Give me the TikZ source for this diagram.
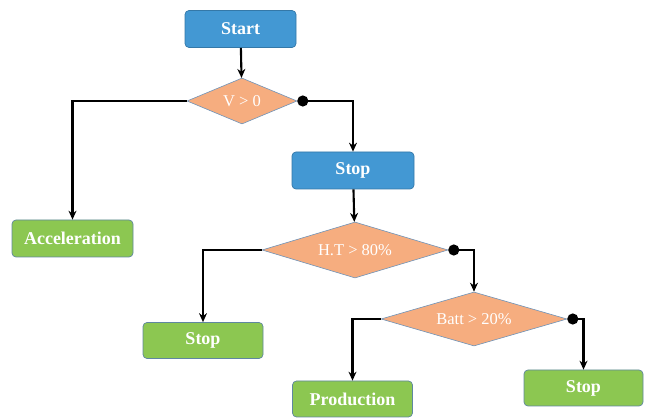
\documentclass[tikz,border=0pt]{standalone}
\usepackage{fontspec}
\setmainfont{Liberation Serif}
\usetikzlibrary{shapes.geometric,arrows.meta}
\definecolor{bluefill}{HTML}{4398D3}
\definecolor{blueedge}{HTML}{3478A8}
\definecolor{orfill}{HTML}{F6AD7F}
\definecolor{oredge}{HTML}{6E93B8}
\definecolor{grfill}{HTML}{8CC751}
\definecolor{gredge}{HTML}{5F87A0}
\tikzset{
  x=1pt,y=-1pt,
  bluebox/.style={rectangle,rounded corners=4pt,draw=blueedge,fill=bluefill,line width=0.7pt,
    text=white,font=\fontsize{18}{19}\selectfont\bfseries,minimum width=111pt,minimum height=37pt},
  greenbox/.style={rectangle,rounded corners=4pt,draw=gredge,fill=grfill,line width=0.7pt,
    text=white,font=\fontsize{18}{19}\selectfont\bfseries,minimum width=120pt,minimum height=36pt},
  decision/.style={diamond,aspect=2.2,draw=oredge,fill=orfill,line width=0.6pt,inner sep=0pt,
    text=white,font=\fontsize{16.5}{17}\selectfont},
  flow/.style={draw=black,line width=2.1pt,-{Stealth[length=9pt,width=8pt]}},
  dotstart/.style={draw=black,line width=2.1pt,{Circle[length=11pt,width=11pt]}-{Stealth[length=9pt,width=8pt]}}
}
\begin{document}
\begin{tikzpicture}
\useasboundingbox (0,0) rectangle (654,419);
\node[bluebox] (start) at (240.5,29) {Start};
\node[decision,minimum width=110pt,minimum height=46pt] (d1) at (242,101) {V > 0};
\node[bluebox,minimum width=122pt] (stop1) at (353,170.5) {Stop};
\node[greenbox,minimum width=121pt,minimum height=37pt] (acc) at (72.5,238.5) {Acceleration};
\node[decision,minimum width=186pt,minimum height=56pt] (d2) at (355,250) {H.T > 80\%};
\node[greenbox] (stop2) at (203,340.5) {Stop};
\node[decision,minimum width=186pt,minimum height=54pt] (d3) at (474,319) {Batt > 20\%};
\node[greenbox] (prod) at (352.5,399) {Production};
\node[greenbox,minimum width=119pt] (stop3) at (583.5,388) {Stop};

\draw[flow] (start) -- (d1);
\draw[flow] (d1.west) -| (acc.north);
\draw[dotstart] (d1.east) -| (stop1.north);
\draw[flow] (stop1) -- (d2);
\draw[flow] (d2.west) -| (stop2.north);
\draw[dotstart] (d2.east) -| (d3.north);
\draw[flow] (d3.west) -| (prod.north);
\draw[dotstart] (d3.east) -| (stop3.north);
\end{tikzpicture}
\end{document}
